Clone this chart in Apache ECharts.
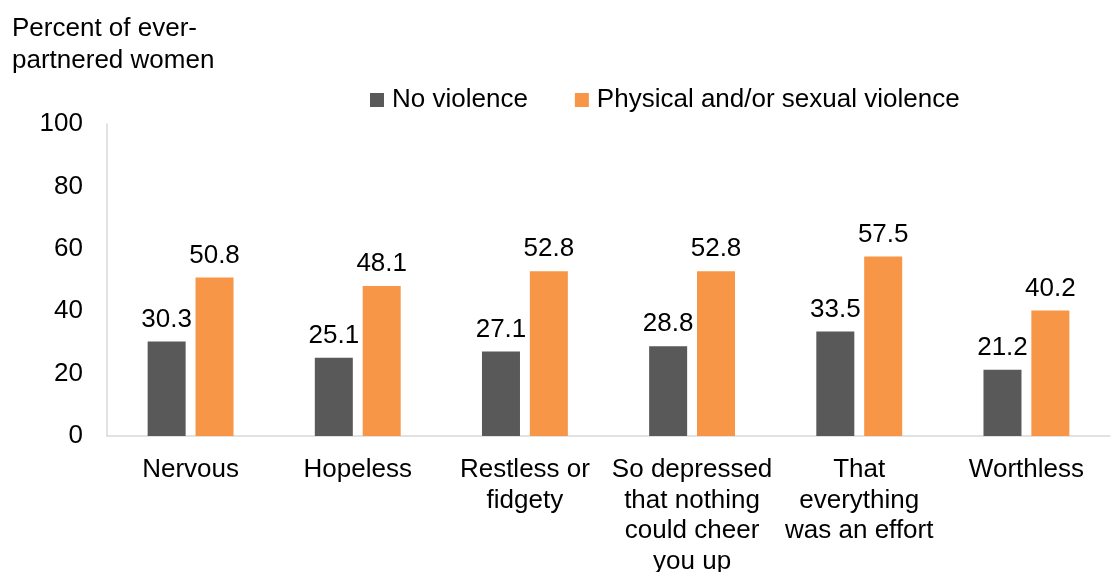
<!DOCTYPE html>
<html><head><meta charset="utf-8">
<script src="https://cdn.jsdelivr.net/npm/echarts@6/dist/echarts.min.js"></script>
<style>html,body{margin:0;padding:0;background:#fff}#c{width:1113px;height:572px}</style>
</head><body><div id="c"></div>
<script>
var categories = ['Nervous', 'Hopeless', 'Restless or\nfidgety', 'So depressed\nthat nothing\ncould cheer\nyou up', 'That\neverything\nwas an effort', 'Worthless'];
var noViolence = [30.3, 25.1, 27.1, 28.8, 33.5, 21.2];
var violence = [50.8, 48.1, 52.8, 52.8, 57.5, 40.2];
var seriesNames = ['No violence', 'Physical and/or sexual violence'];
var yTitle = 'Percent of ever-\npartnered women';
var FONT = '"Liberation Sans", Arial, sans-serif';
var FS = 26;
var chart = echarts.init(document.getElementById('c'));
var lbl = {show: true, position: 'top', distance: 9, color: '#000', fontSize: FS, fontFamily: FONT,
  formatter: function(p){return p.value.toFixed(1);}};
chart.setOption({
  animation: false,
  textStyle: {fontFamily: FONT},
  title: {text: yTitle, left: 7, top: 8, textStyle: {fontSize: FS, fontWeight: 'normal', color: '#000', lineHeight: 32, fontFamily: FONT}},
  legend: {top: 87, left: 370, padding: 0, itemWidth: 14, itemHeight: 14, itemGap: 47, icon: 'rect',
    textStyle: {fontSize: FS, color: '#000', fontFamily: FONT, padding: [0,0,0,3]}},
  grid: {left: 107, right: 3, top: 124, bottom: 136, containLabel: false, outerBoundsMode: 'none'},
  xAxis: {type: 'category', data: categories,
    axisLine: {lineStyle: {color: '#D9D9D9', width: 1.5}}, axisTick: {show: false},
    axisLabel: {color: '#000', fontSize: FS, lineHeight: 30.5, margin: 19, interval: 0, fontFamily: FONT}},
  yAxis: {type: 'value', min: 0, max: 100, interval: 20,
    axisLine: {show: true, lineStyle: {color: '#D9D9D9', width: 1.5}}, axisTick: {show: false},
    splitLine: {show: false},
    axisLabel: {color: '#000', fontSize: FS, margin: 24, fontFamily: FONT}},
  series: [
    {name: seriesNames[0], type: 'bar', data: noViolence, barWidth: 38, barGap: '26%', itemStyle: {color: '#595959'}, label: lbl},
    {name: seriesNames[1], type: 'bar', data: violence, barWidth: 38, itemStyle: {color: '#F79646'}, label: lbl}
  ]
});
</script></body></html>
